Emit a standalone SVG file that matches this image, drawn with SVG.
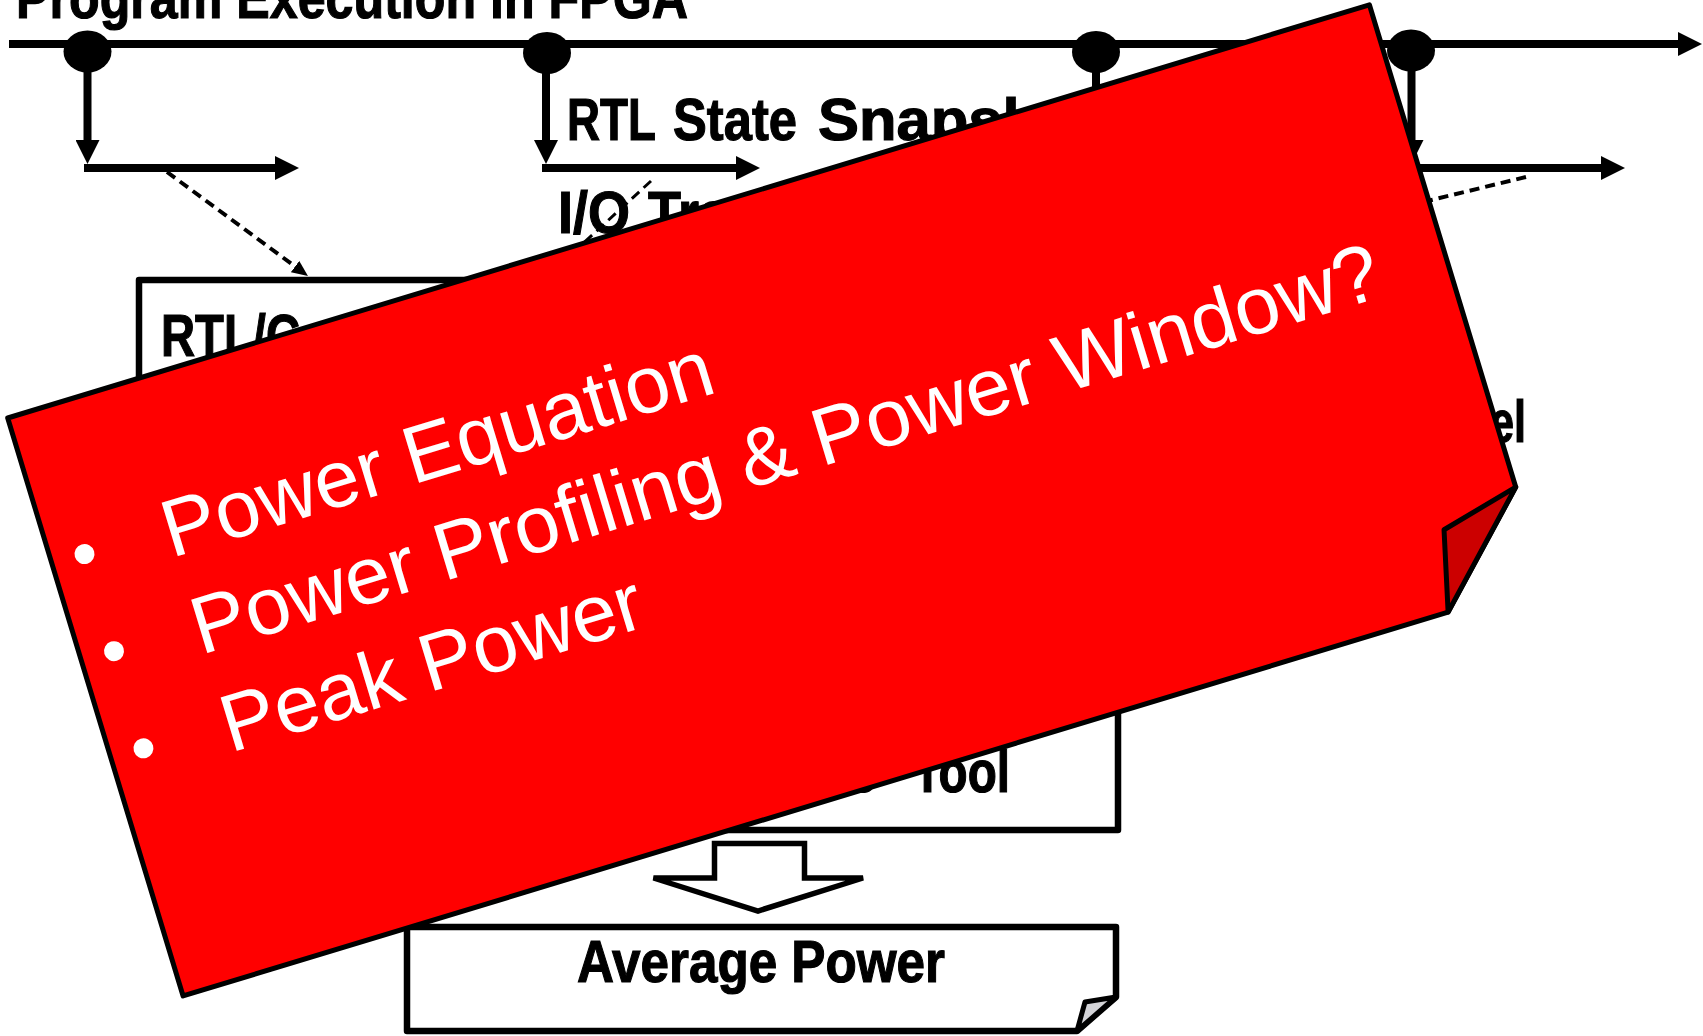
<svg xmlns="http://www.w3.org/2000/svg" width="1703" height="1036" viewBox="0 0 1703 1036">
  <style>
    .lbl { font-family: "Liberation Sans", Arial, sans-serif; font-weight: bold; font-size: 60px; fill: #000; stroke: #000; stroke-width: 1.2; }
    .solid { fill: none; stroke: #000; stroke-width: 8; }
    .box { fill: #fff; stroke: #000; stroke-width: 6.5; stroke-linejoin: round; }
    .dash { fill: none; stroke: #000; stroke-width: 4; stroke-dasharray: 10 6; }
    .dot { fill: #000; }
    .note-text { font-family: "Liberation Sans", Arial, sans-serif; font-size: 81px; fill: #fff; }
  </style>
  <defs>
    <marker id="ah" markerUnits="userSpaceOnUse" markerWidth="24" markerHeight="24" viewBox="0 0 24 24" refX="2" refY="12" orient="auto">
      <path d="M0,0 L24,12 L0,24 z" fill="#000"/>
    </marker>
    <marker id="dh" markerUnits="userSpaceOnUse" markerWidth="16" markerHeight="14" viewBox="0 0 16 14" refX="2" refY="7" orient="auto">
      <path d="M0,0 L16,7 L0,14 z" fill="#000"/>
    </marker>
  </defs>

  <rect width="1703" height="1036" fill="#fff"/>

  <!-- title (runs off the top edge) -->
  <text id="title" class="lbl" x="16" y="18" textLength="672" lengthAdjust="spacingAndGlyphs">Program Execution in FPGA</text>

  <!-- connectors: timeline, snapshot taps, dashed links -->
  <g id="connectors">
    <line class="solid" x1="9" y1="44" x2="1680" y2="44" marker-end="url(#ah)"/>

    <line class="solid" x1="87.5" y1="60" x2="87.5" y2="142" marker-end="url(#ah)"/>
    <line class="solid" x1="84" y1="168" x2="277" y2="168" marker-end="url(#ah)"/>

    <line class="solid" x1="546" y1="60" x2="546" y2="142" marker-end="url(#ah)"/>
    <line class="solid" x1="542" y1="168" x2="738" y2="168" marker-end="url(#ah)"/>

    <line class="solid" x1="1096" y1="60" x2="1096" y2="142" marker-end="url(#ah)"/>
    <line class="solid" x1="1092" y1="168" x2="1290" y2="168" marker-end="url(#ah)"/>

    <line class="solid" x1="1411.5" y1="60" x2="1411.5" y2="142" marker-end="url(#ah)"/>
    <line class="solid" x1="1408" y1="168" x2="1603" y2="168" marker-end="url(#ah)"/>

    <line class="dash" x1="167" y1="172" x2="296.7" y2="267.7" marker-end="url(#dh)"/>
    <line x1="651" y1="181" x2="540" y2="283" fill="none" stroke="#fff" stroke-width="8" stroke-dasharray="10 6"/>
    <line x1="651" y1="181" x2="540" y2="283" fill="none" stroke="#000" stroke-width="3" stroke-dasharray="10 6"/>
    <line class="dash" x1="1526" y1="177" x2="1300" y2="232"/>
  </g>

  <!-- snapshot points on the timeline -->
  <g id="snap-1"><ellipse class="dot" cx="87.5" cy="51.5" rx="24" ry="21"/></g>
  <g id="snap-2"><ellipse class="dot" cx="547" cy="53" rx="24" ry="21"/></g>
  <g id="snap-3"><ellipse class="dot" cx="1096" cy="52" rx="24" ry="21"/></g>
  <g id="snap-4"><ellipse class="dot" cx="1411" cy="50.5" rx="24" ry="21"/></g>

  <!-- labels -->
  <g id="state-snapshot">
    <text class="lbl" y="140"><tspan x="567" textLength="89" lengthAdjust="spacingAndGlyphs">RTL</tspan><tspan x="673" textLength="124" lengthAdjust="spacingAndGlyphs">State</tspan><tspan x="818" textLength="280" lengthAdjust="spacingAndGlyphs">Snapshot</tspan></text>
  </g>
  <g id="io-trace">
    <text class="lbl" y="233"><tspan x="558" textLength="72" lengthAdjust="spacingAndGlyphs">I/O</tspan><tspan x="648" textLength="141" lengthAdjust="spacingAndGlyphs">Trace</tspan></text>
  </g>

  <!-- simulation box -->
  <g id="sim-box">
    <rect class="box" x="139" y="280" width="560" height="250"/>
    <text class="lbl" x="161" y="356" textLength="139" lengthAdjust="spacingAndGlyphs">RTL/C</text>
  </g>

  <!-- model label -->
  <g id="model">
    <text class="lbl" x="1490" y="442" textLength="36" lengthAdjust="spacingAndGlyphs">el</text>
  </g>

  <!-- analysis tool box -->
  <g id="tool-box">
    <rect class="box" x="430" y="560" width="688" height="270"/>
    <text class="lbl" y="792"><tspan x="848" textLength="28" lengthAdjust="spacingAndGlyphs">s</tspan><tspan x="913" textLength="97" lengthAdjust="spacingAndGlyphs">Tool</tspan></text>
  </g>

  <!-- hollow down arrow -->
  <g id="down-arrow">
    <polygon points="714.5,843.5 804.5,843.5 804.5,878 863,878 758,911 653.5,878 714.5,878" fill="#fff" stroke="#000" stroke-width="5.5" stroke-linejoin="miter"/>
  </g>

  <!-- result page with curled corner -->
  <g id="average-power">
    <path d="M407,927 L1116,927 L1116,997 L1077,1031 L407,1031 Z" class="box"/>
    <path d="M1116,997 L1085,1002 L1077,1031 Z" fill="#d4d4d8" stroke="#000" stroke-width="5" stroke-linejoin="round"/>
    <text class="lbl" x="577" y="982" textLength="368" lengthAdjust="spacingAndGlyphs">Average Power</text>
  </g>

  <!-- red sticky note laid over the flow -->
  <g id="note" transform="translate(7.7,418) rotate(-16.88)">
    <polygon points="0,0 1423,0 1423,504 1322,604 0,604" fill="#ff0000" stroke="#000" stroke-width="5" stroke-linejoin="round"/>
    <polygon points="1423,504 1342,524 1322,604" fill="#cc0000" stroke="#000" stroke-width="5" stroke-linejoin="round"/>
    <circle cx="34" cy="152.5" r="10" fill="#fff"/>
    <circle cx="34" cy="254" r="10" fill="#fff"/>
    <circle cx="34" cy="355.5" r="10" fill="#fff"/>
    <text class="note-text" x="116" y="181.5">Power Equation</text>
    <text class="note-text" x="116" y="283" textLength="1238" lengthAdjust="spacingAndGlyphs">Power Profiling &amp; Power Window?</text>
    <text class="note-text" x="116" y="385">Peak Power</text>
  </g>
</svg>
